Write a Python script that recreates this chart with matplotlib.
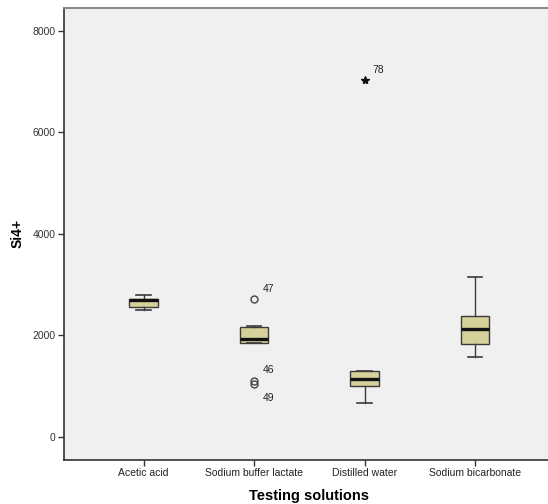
import matplotlib
matplotlib.use("Agg")
import matplotlib.pyplot as plt

plt.rcParams["font.family"] = ["Liberation Sans Narrow", "Liberation Sans", "DejaVu Sans"]

# box statistics
categories = ["Acetic acid", "Sodium buffer lactate", "Distilled water", "Sodium bicarbonate"]
whislo = [2490, 1840, 660, 1570]
q1 = [2550, 1840, 1005, 1830]
med = [2700, 1920, 1140, 2125]
q3 = [2720, 2155, 1285, 2375]
whishi = [2800, 2180, 1300, 3155]

# outliers: (category index, value, case label, kind)
out_cat = [1, 1, 1, 2]
out_val = [2710, 1095, 1040, 7045]
out_lab = ["47", "46", "49", "78"]
out_kind = ["o", "o", "o", "*"]

yticks = [0, 2000, 4000, 6000, 8000]

fig = plt.figure(figsize=(5.48, 5.04), dpi=100)
ax = fig.add_axes([0.117, 0.088, 0.895, 0.896])
ax.set_facecolor("#f0f0f0")

stats = [dict(whislo=a, q1=b, med=c, q3=d, whishi=e, fliers=[])
         for a, b, c, d, e in zip(whislo, q1, med, q3, whishi)]
pos = list(range(1, len(categories) + 1))
ax.bxp(stats, positions=pos, widths=0.26, patch_artist=True, showfliers=False,
       boxprops=dict(facecolor="#d6d09a", edgecolor="#3a3a3a", lw=1.0),
       medianprops=dict(color="#111111", lw=2.4),
       whiskerprops=dict(color="#3a3a3a", lw=1.0),
       capprops=dict(color="#3a3a3a", lw=1.2), capwidths=0.13)

for c, v, lab, k in zip(out_cat, out_val, out_lab, out_kind):
    x = pos[c]
    if k == "*":
        ax.plot(x, v, marker="*", color="#111111", ms=6, ls="none")
    else:
        ax.plot(x, v, marker="o", mfc="none", mec="#444444", ms=5, mew=1.0, ls="none")
for c, v, lab in zip(out_cat, out_val, out_lab):
    dy = {"46": 6, "49": -12}.get(lab, 5)
    ax.annotate(lab, (pos[c], v), xytext=(6, dy), textcoords="offset points",
                fontsize=7.5, color="#222222")

ax.set_xlim(0.28, 4.72)
ax.set_ylim(-455, 8455)
ax.set_yticks(yticks)
ax.set_yticklabels([str(t) for t in yticks], fontsize=7.5, color="#333333")
ax.set_xticks(pos)
ax.set_xticklabels(categories, fontsize=7.5, color="#222222")
ax.tick_params(length=4, width=1, color="#333333", pad=2)

for s in ["left", "bottom"]:
    ax.spines[s].set_color("#333333")
    ax.spines[s].set_linewidth(1.2)
ax.spines["top"].set_color("#8a8a8a")
ax.spines["top"].set_linewidth(1.5)
ax.spines["right"].set_visible(False)

ax.set_ylabel("Si4+", fontsize=10, fontweight="bold", labelpad=6)
ax.set_xlabel("Testing solutions", fontsize=10.5, fontweight="bold", labelpad=8,
              family=["Liberation Sans", "DejaVu Sans"])
ax.yaxis.label.set_family(["Liberation Sans", "DejaVu Sans"])

fig.savefig("out.png", dpi=100)
